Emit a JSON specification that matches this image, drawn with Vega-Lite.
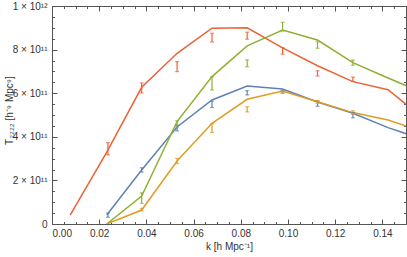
{
  "$schema": "https://vega.github.io/schema/vega-lite/v6.json",
  "width": 354,
  "height": 218,
  "autosize": {"type": "none"},
  "padding": {"left": 52, "top": 6, "right": 1, "bottom": 33},
  "config": {
    "view": {"stroke": "#555", "strokeWidth": 1},
    "font": "Liberation Sans",
    "axis": {"domain": false, "grid": false, "tickColor": "#555", "labelColor": "#333", "titleColor": "#333", "labelFontSize": 10, "titleFontSize": 10, "titleFontWeight": "normal", "labelFont": "Liberation Sans", "titleFont": "Liberation Sans"}
  },
  "datasets": {
    "model": [
      {"series": "red", "k": 0.0077, "T": 0.41e11},
      {"series": "red", "k": 0.0232, "T": 3.3e11},
      {"series": "red", "k": 0.038, "T": 6.27e11},
      {"series": "red", "k": 0.053, "T": 7.83e11},
      {"series": "red", "k": 0.0678, "T": 8.98e11},
      {"series": "red", "k": 0.0827, "T": 9.0e11},
      {"series": "red", "k": 0.0977, "T": 8.08e11},
      {"series": "red", "k": 0.1125, "T": 7.26e11},
      {"series": "red", "k": 0.1275, "T": 6.53e11},
      {"series": "red", "k": 0.1424, "T": 6.16e11},
      {"series": "red", "k": 0.1574, "T": 4.85e11},
      {"series": "blue", "k": 0.0232, "T": 0.41e11},
      {"series": "blue", "k": 0.038, "T": 2.48e11},
      {"series": "blue", "k": 0.053, "T": 4.45e11},
      {"series": "blue", "k": 0.0678, "T": 5.69e11},
      {"series": "blue", "k": 0.0827, "T": 6.33e11},
      {"series": "blue", "k": 0.0977, "T": 6.19e11},
      {"series": "blue", "k": 0.1125, "T": 5.6e11},
      {"series": "blue", "k": 0.1275, "T": 5.08e11},
      {"series": "blue", "k": 0.1424, "T": 4.42e11},
      {"series": "blue", "k": 0.1574, "T": 3.88e11},
      {"series": "green", "k": 0.0232, "T": 0.0},
      {"series": "green", "k": 0.038, "T": 1.28e11},
      {"series": "green", "k": 0.053, "T": 4.7e11},
      {"series": "green", "k": 0.0678, "T": 6.76e11},
      {"series": "green", "k": 0.0827, "T": 8.17e11},
      {"series": "green", "k": 0.0977, "T": 8.9e11},
      {"series": "green", "k": 0.1125, "T": 8.44e11},
      {"series": "green", "k": 0.1275, "T": 7.4e11},
      {"series": "green", "k": 0.1424, "T": 6.7e11},
      {"series": "green", "k": 0.1574, "T": 6.0e11},
      {"series": "orange", "k": 0.0232, "T": 0.0},
      {"series": "orange", "k": 0.038, "T": 0.64e11},
      {"series": "orange", "k": 0.053, "T": 2.89e11},
      {"series": "orange", "k": 0.0678, "T": 4.62e11},
      {"series": "orange", "k": 0.0827, "T": 5.72e11},
      {"series": "orange", "k": 0.0977, "T": 6.1e11},
      {"series": "orange", "k": 0.1125, "T": 5.61e11},
      {"series": "orange", "k": 0.1275, "T": 5.11e11},
      {"series": "orange", "k": 0.1424, "T": 4.77e11},
      {"series": "orange", "k": 0.1574, "T": 4.23e11}
    ],
    "meas": [
      {"series": "red", "k": 0.0237, "lo": 3.17e11, "hi": 3.73e11},
      {"series": "red", "k": 0.038, "lo": 6.01e11, "hi": 6.47e11},
      {"series": "red", "k": 0.053, "lo": 6.99e11, "hi": 7.45e11},
      {"series": "red", "k": 0.0678, "lo": 8.35e11, "hi": 8.75e11},
      {"series": "red", "k": 0.0827, "lo": 8.48e11, "hi": 8.8e11},
      {"series": "red", "k": 0.0977, "lo": 7.79e11, "hi": 8.09e11},
      {"series": "red", "k": 0.1125, "lo": 6.79e11, "hi": 7.03e11},
      {"series": "red", "k": 0.1275, "lo": 6.54e11, "hi": 6.74e11},
      {"series": "blue", "k": 0.0237, "lo": 0.31e11, "hi": 0.51e11},
      {"series": "blue", "k": 0.038, "lo": 2.38e11, "hi": 2.58e11},
      {"series": "blue", "k": 0.053, "lo": 4.27e11, "hi": 4.53e11},
      {"series": "blue", "k": 0.0678, "lo": 5.34e11, "hi": 5.64e11},
      {"series": "blue", "k": 0.0827, "lo": 5.92e11, "hi": 6.12e11},
      {"series": "blue", "k": 0.0977, "lo": 6.01e11, "hi": 6.13e11},
      {"series": "blue", "k": 0.1125, "lo": 5.4e11, "hi": 5.64e11},
      {"series": "blue", "k": 0.1275, "lo": 4.87e11, "hi": 5.11e11},
      {"series": "green", "k": 0.038, "lo": 0.95e11, "hi": 1.43e11},
      {"series": "green", "k": 0.053, "lo": 4.44e11, "hi": 4.74e11},
      {"series": "green", "k": 0.0678, "lo": 6.15e11, "hi": 6.75e11},
      {"series": "green", "k": 0.0827, "lo": 7.21e11, "hi": 7.53e11},
      {"series": "green", "k": 0.0977, "lo": 8.85e11, "hi": 9.25e11},
      {"series": "green", "k": 0.1125, "lo": 8.06e11, "hi": 8.36e11},
      {"series": "green", "k": 0.1275, "lo": 7.28e11, "hi": 7.52e11},
      {"series": "orange", "k": 0.038, "lo": 0.6e11, "hi": 0.72e11},
      {"series": "orange", "k": 0.053, "lo": 2.77e11, "hi": 3.01e11},
      {"series": "orange", "k": 0.0678, "lo": 4.2e11, "hi": 4.6e11},
      {"series": "orange", "k": 0.0827, "lo": 5.14e11, "hi": 5.38e11},
      {"series": "orange", "k": 0.0977, "lo": 5.99e11, "hi": 6.11e11},
      {"series": "orange", "k": 0.1125, "lo": 5.54e11, "hi": 5.66e11},
      {"series": "orange", "k": 0.1275, "lo": 5.03e11, "hi": 5.19e11}
    ]
  },
  "resolve": {"axis": {"x": "independent", "y": "independent"}},
  "layer": [
    {
      "data": {"name": "model"},
      "mark": {"type": "line", "strokeWidth": 1.5, "clip": true},
      "encoding": {
        "x": {"field": "k", "type": "quantitative", "scale": {"domain": [0, 0.15], "nice": false, "zero": false},
          "axis": {"orient": "bottom", "values": [0, 0.02, 0.04, 0.06, 0.08, 0.1, 0.12, 0.14], "format": ".2f", "tickSize": -5, "labelPadding": 9, "title": "k [h Mpc⁻¹]", "titlePadding": 3}},
        "y": {"field": "T", "type": "quantitative", "scale": {"domain": [0, 1e12], "nice": false},
          "axis": {"orient": "left", "values": [0, 2e11, 4e11, 6e11, 8e11, 1e12], "tickSize": -5, "labelPadding": 10,
            "labelExpr": "datum.value == 0 ? '0' : datum.value >= 1e12 ? '1 × 10¹²' : format(datum.value / 1e11, 'd') + ' × 10¹¹'",
            "title": "T₂₂₂₂ [h⁻⁹ Mpc⁹]", "titleX": -38, "titleY": 104, "titleAngle": -90, "titleBaseline": "bottom"}},
        "color": {"field": "series", "type": "nominal", "legend": null,
          "scale": {"domain": ["blue", "orange", "green", "red"], "range": ["#5E81B5", "#E19C24", "#8FB032", "#EB6235"]}}
      }
    },
    {
      "data": {"name": "meas"},
      "mark": {"type": "rule", "strokeWidth": 1.2},
      "encoding": {
        "x": {"field": "k", "type": "quantitative",
          "axis": {"orient": "bottom", "values": [0.005, 0.01, 0.015, 0.025, 0.03, 0.035, 0.045, 0.05, 0.055, 0.065, 0.07, 0.075, 0.085, 0.09, 0.095, 0.105, 0.11, 0.115, 0.125, 0.13, 0.135, 0.145], "tickSize": -2.5, "labels": false, "title": null}},
        "y": {"field": "lo", "type": "quantitative",
          "axis": {"orient": "left", "values": [5e10, 1e11, 1.5e11, 2.5e11, 3e11, 3.5e11, 4.5e11, 5e11, 5.5e11, 6.5e11, 7e11, 7.5e11, 8.5e11, 9e11, 9.5e11], "tickSize": -2.5, "labels": false, "title": null}},
        "y2": {"field": "hi"},
        "color": {"field": "series", "type": "nominal", "legend": null}
      }
    },
    {
      "data": {"name": "meas"},
      "mark": {"type": "tick", "orient": "horizontal", "size": 4, "thickness": 1.2},
      "encoding": {
        "x": {"field": "k", "type": "quantitative",
          "axis": {"orient": "top", "values": [0, 0.02, 0.04, 0.06, 0.08, 0.1, 0.12, 0.14], "tickSize": -5, "labels": false, "title": null}},
        "y": {"field": "lo", "type": "quantitative",
          "axis": {"orient": "right", "values": [0, 2e11, 4e11, 6e11, 8e11, 1e12], "tickSize": -5, "labels": false, "title": null}},
        "color": {"field": "series", "type": "nominal", "legend": null}
      }
    },
    {
      "data": {"name": "meas"},
      "mark": {"type": "tick", "orient": "horizontal", "size": 4, "thickness": 1.2},
      "encoding": {
        "x": {"field": "k", "type": "quantitative",
          "axis": {"orient": "top", "values": [0.005, 0.01, 0.015, 0.025, 0.03, 0.035, 0.045, 0.05, 0.055, 0.065, 0.07, 0.075, 0.085, 0.09, 0.095, 0.105, 0.11, 0.115, 0.125, 0.13, 0.135, 0.145], "tickSize": -2.5, "labels": false, "title": null}},
        "y": {"field": "hi", "type": "quantitative",
          "axis": {"orient": "right", "values": [5e10, 1e11, 1.5e11, 2.5e11, 3e11, 3.5e11, 4.5e11, 5e11, 5.5e11, 6.5e11, 7e11, 7.5e11, 8.5e11, 9e11, 9.5e11], "tickSize": -2.5, "labels": false, "title": null}},
        "color": {"field": "series", "type": "nominal", "legend": null}
      }
    }
  ]
}
